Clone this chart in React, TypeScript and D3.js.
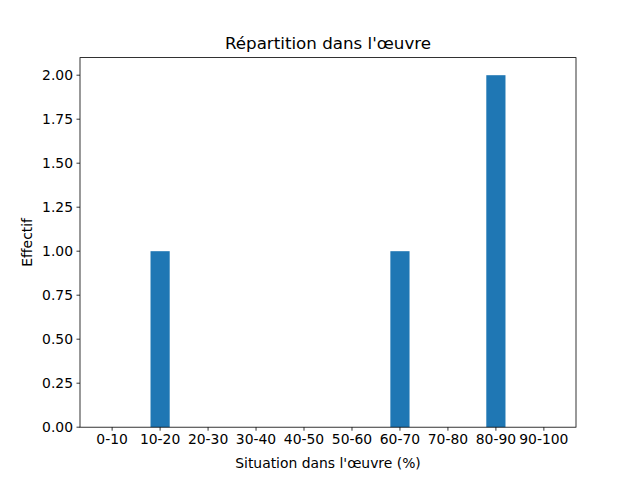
import React from "react";
import * as d3 from "d3";

const categories = ["0-10", "10-20", "20-30", "30-40", "40-50", "50-60", "60-70", "70-80", "80-90", "90-100"];
const counts = [0, 1, 0, 0, 0, 0, 1, 0, 2, 0];
const yTicks = [0, 0.25, 0.5, 0.75, 1.0, 1.25, 1.5, 1.75, 2.0];

export default function App() {
  const W = 640, H = 480;
  const L = 80, R = 576, T = 57.6, B = 427.2;
  const barW = 0.4;
  const x = d3.scaleLinear().domain([-0.67, 9.67]).range([L, R]);
  const y = d3.scaleLinear().domain([0, 2.1]).range([B, T]);
  const font = "DejaVu Sans, sans-serif";
  return (
    <svg width={W} height={H} style={{ position: "absolute", left: 0, top: 0 }} fontFamily={font}>
      <rect x={0} y={0} width={W} height={H} fill="white" />
      {counts.map((c, i) => (
        <rect key={i} x={x(i - barW / 2)} y={y(c)} width={x(i + barW / 2) - x(i - barW / 2)} height={B - y(c)} fill="#1f77b4" />
      ))}
      <rect x={L} y={T} width={R - L} height={B - T} fill="none" stroke="black" strokeWidth={0.8} />
      {categories.map((c, i) => (
        <g key={c}>
          <line x1={x(i)} x2={x(i)} y1={B} y2={B + 3.5} stroke="black" strokeWidth={0.8} />
          <text x={x(i)} y={B + 17} textAnchor="middle" fontSize={13.9} fill="black">{c}</text>
        </g>
      ))}
      {yTicks.map((t) => (
        <g key={t}>
          <line x1={L - 3.5} x2={L} y1={y(t)} y2={y(t)} stroke="black" strokeWidth={0.8} />
          <text x={L - 7} y={y(t)} dy="0.35em" textAnchor="end" fontSize={13.9} fill="black">{t.toFixed(2)}</text>
        </g>
      ))}
      <text x={(L + R) / 2} y={468} textAnchor="middle" fontSize={13.9} fill="black">Situation dans l'œuvre (%)</text>
      <text transform={`translate(32,${(T + B) / 2}) rotate(-90)`} textAnchor="middle" fontSize={13.9} fill="black">Effectif</text>
      <text x={(L + R) / 2} y={49} textAnchor="middle" fontSize={16.7} fill="black">Répartition dans l'œuvre</text>
    </svg>
  );
}
